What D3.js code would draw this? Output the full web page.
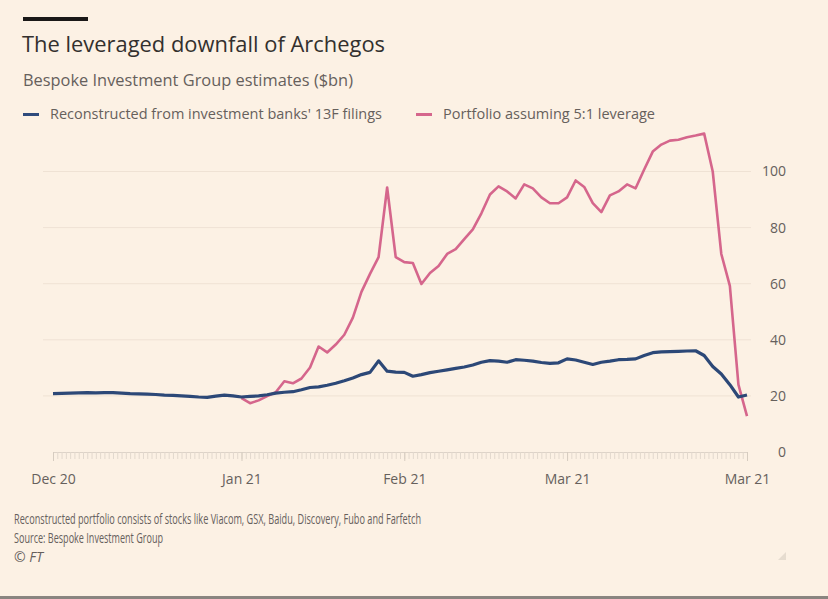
<!DOCTYPE html>
<html>
<head>
<meta charset="utf-8">
<script src="https://cdn.jsdelivr.net/npm/d3@7"></script>
<style>
  html, body { margin: 0; padding: 0; background: #fcf1e4; }
  svg { display: block; }
  text { font-family: "Open Sans", Lato, sans-serif; }
</style>
</head>
<body>
<svg id="chart" width="828" height="599"></svg>
<script>
// trading days, Dec 1 2020 (index 0) to Mar 30 2021 (index 81)
const tickIndex = [0, 22, 41, 60, 81];
const tickLabels = ['Dec 20', 'Jan 21', 'Feb 21', 'Mar 21', 'Mar 21'];
const yTicks = [0, 20, 40, 60, 80, 100];

// Reconstructed from investment banks' 13F filings ($bn)
const filings = [
  20.8, 20.9, 21.0, 21.1, 21.2, 21.1, 21.2, 21.2, 21.0, 20.8,
  20.7, 20.6, 20.5, 20.3, 20.2, 20.0, 19.8, 19.6, 19.5, 19.9,
  20.3, 20.0, 19.6, 19.8, 20.0, 20.4, 21.0, 21.3, 21.5, 22.2,
  23.0, 23.2, 23.8, 24.5, 25.4, 26.4, 27.6, 28.4, 32.5, 28.8,
  28.5, 28.4, 27.0, 27.6, 28.3, 28.8, 29.3, 29.8, 30.3, 31.0,
  32.0, 32.6, 32.4, 32.0, 32.9, 32.7, 32.4, 31.9, 31.6, 31.8,
  33.2, 32.8, 32.0, 31.2, 32.0, 32.4, 32.9, 33.0, 33.2, 34.4,
  35.4, 35.7, 35.8, 35.9, 36.0, 36.1, 34.4, 30.5, 27.8, 24.0,
  19.6, 20.3
];

// Portfolio assuming 5:1 leverage ($bn), starts Jan 4 2021 (index 22)
const leverageStart = 22;
const leverage = [
  19.2, 17.4, 18.4, 19.9, 21.3, 25.2, 24.5, 26.2, 30.1, 37.6,
  35.5, 38.3, 41.8, 47.9, 57.1, 63.5, 69.5, 94.3, 69.5, 67.7,
  67.4, 59.9, 63.8, 66.3, 70.6, 72.3, 75.9, 79.4, 85.1, 91.8,
  94.7, 92.9, 90.4, 95.4, 94.0, 90.8, 88.7, 88.7, 90.8, 96.8,
  94.5, 88.7, 85.5, 91.5, 92.9, 95.4, 94.0, 100.7, 107.1, 109.6,
  111.0, 111.3, 112.2, 112.8, 113.5, 100.0, 70.6, 59.2, 24.0, 12.8
];

const svg = d3.select('#chart');

const x = d3.scaleLinear().domain([0, 81]).range([53, 747]);
const y = d3.scaleLinear().domain([0, 100]).range([452, 171.5]);

// header
svg.append('rect').attr('x', 23).attr('y', 17).attr('width', 65).attr('height', 4).attr('fill', '#1a1817');
svg.append('text').attr('x', 22).attr('y', 52)
    .attr('font-size', '22px').attr('fill', '#33302e')
    .attr('textLength', 363).attr('lengthAdjust', 'spacingAndGlyphs')
    .text('The leveraged downfall of Archegos');
svg.append('text').attr('x', 23).attr('y', 86)
    .attr('font-size', '15.5px').attr('fill', '#66605c')
    .attr('textLength', 330).attr('lengthAdjust', 'spacingAndGlyphs')
    .text('Bespoke Investment Group estimates ($bn)');

// legend
const legend = [
  {label: "Reconstructed from investment banks' 13F filings", color: '#2f4b7c', x: 23, w: 332},
  {label: 'Portfolio assuming 5:1 leverage', color: '#d5668c', x: 416, w: 212}
];
legend.forEach(function (d) {
  svg.append('rect').attr('x', d.x).attr('y', 113).attr('width', 16).attr('height', 3)
      .attr('fill', d.color);
  svg.append('text').attr('x', d.x + 27).attr('y', 119)
      .attr('font-size', '14px').attr('fill', '#66605c')
      .attr('textLength', d.w).attr('lengthAdjust', 'spacingAndGlyphs')
      .text(d.label);
});

// gridlines + y labels
svg.append('g').selectAll('line')
    .data(yTicks.filter(d => d > 0))
    .enter().append('line')
    .attr('x1', 43).attr('x2', 751)
    .attr('y1', d => y(d)).attr('y2', d => y(d))
    .attr('stroke', '#efe2d4').attr('stroke-width', 1);

svg.append('g').selectAll('text')
    .data(yTicks)
    .enter().append('text')
    .attr('x', 786).attr('y', d => y(d))
    .attr('dy', '0.35em')
    .attr('text-anchor', 'end')
    .attr('font-size', '14px').attr('fill', '#66605c')
    .text(d => d);

// x axis
const minor = svg.append('g').attr('transform', 'translate(0,' + y(0) + ')')
    .call(d3.axisBottom(x).tickValues(d3.range(0, 81.01, 0.5)).tickSize(7).tickFormat(''));
minor.select('.domain').attr('stroke', '#ddd3c8');
minor.selectAll('.tick line').attr('stroke', '#e2d8cd');

const major = svg.append('g').attr('transform', 'translate(0,' + y(0) + ')')
    .call(d3.axisBottom(x).tickValues(tickIndex).tickSize(9).tickPadding(13)
        .tickFormat((d, i) => tickLabels[i]));
major.select('.domain').remove();
major.selectAll('.tick line').attr('stroke', '#d6ccc0');
major.selectAll('.tick text')
    .attr('font-family', '"Open Sans", Lato, sans-serif')
    .attr('font-size', '14px').attr('fill', '#66605c');

// lines
const line = d3.line().x(d => x(d[0])).y(d => y(d[1]));

svg.append('path')
    .datum(leverage.map((v, i) => [i + leverageStart, v]))
    .attr('d', line)
    .attr('fill', 'none').attr('stroke', '#d5668c').attr('stroke-width', 2.6)
    .attr('stroke-linejoin', 'round');

svg.append('path')
    .datum(filings.map((v, i) => [i, v]))
    .attr('d', line)
    .attr('fill', 'none').attr('stroke', '#2c4877').attr('stroke-width', 3.2)
    .attr('stroke-linejoin', 'round');

// footer
const notes = [
  {text: 'Reconstructed portfolio consists of stocks like Viacom, GSX, Baidu, Discovery, Fubo and Farfetch', y: 524, w: 407},
  {text: 'Source: Bespoke Investment Group', y: 543, w: 149}
];
notes.forEach(function (d) {
  svg.append('text').attr('x', 14).attr('y', d.y)
      .attr('font-family', '"Liberation Sans Narrow", "DejaVu Sans Condensed", sans-serif')
      .attr('font-size', '14px').attr('fill', '#66605c')
      .attr('textLength', d.w).attr('lengthAdjust', 'spacingAndGlyphs')
      .text(d.text);
});
svg.append('text').attr('x', 14).attr('y', 562)
    .attr('font-family', '"Liberation Sans Narrow", sans-serif')
    .attr('font-size', '14px').attr('font-style', 'italic').attr('fill', '#66605c')
    .text('© FT');

svg.append('path').attr('d', 'M786,552 L786,560 L778,560 Z').attr('fill', '#e6dccf');
svg.append('rect').attr('x', 0).attr('y', 596).attr('width', 828).attr('height', 3).attr('fill', '#8a8580');
</script>
</body>
</html>
